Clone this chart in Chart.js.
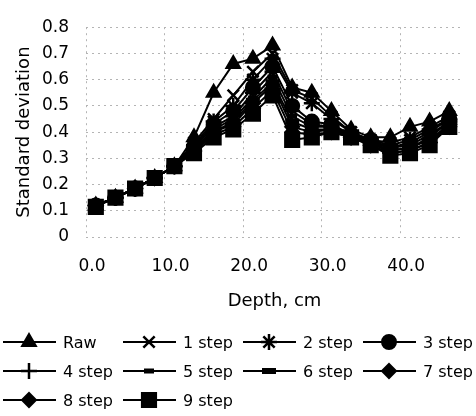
<!DOCTYPE html>
<html>
<head>
<meta charset="utf-8">
<script src="https://cdn.jsdelivr.net/npm/chart.js@4/dist/chart.umd.min.js"></script>
<style>
body { margin: 0; background: #fff; width: 476px; height: 416px; overflow: hidden; position: relative; font-family: "DejaVu Sans", sans-serif; }
#wrap { position: absolute; left: 0; top: 0; width: 476px; height: 318px; }
#legend { position: absolute; left: 0; top: 0; width: 476px; height: 416px; pointer-events: none; }
.item { position: absolute; height: 22px; display: flex; align-items: center; font-size: 16px; color: #000; white-space: nowrap; }
.item canvas { margin-right: 6px; }
</style>
</head>
<body>
<div id="wrap"><canvas id="chart"></canvas></div>
<div id="legend"></div>
<script>
// depth of each layer midpoint, cm
var depths = [1.25, 3.75, 6.25, 8.75, 11.25, 13.75, 16.25, 18.75, 21.25, 23.75, 26.25, 28.75, 31.25, 33.75, 36.25, 38.75, 41.25, 43.75, 46.25];

var raw   = [0.12, 0.15, 0.185, 0.225, 0.27, 0.38, 0.55, 0.66, 0.68, 0.73, 0.57, 0.55, 0.48, 0.41, 0.38, 0.38, 0.42, 0.44, 0.48];
var step1 = [0.12, 0.15, 0.185, 0.225, 0.27, 0.36, 0.45, 0.54, 0.63, 0.70, 0.56, 0.53, 0.46, 0.40, 0.37, 0.36, 0.38, 0.42, 0.46];
var step2 = [0.12, 0.15, 0.185, 0.225, 0.27, 0.35, 0.44, 0.50, 0.60, 0.68, 0.55, 0.51, 0.45, 0.40, 0.37, 0.35, 0.37, 0.41, 0.45];
var step3 = [0.12, 0.15, 0.185, 0.225, 0.27, 0.345, 0.43, 0.48, 0.57, 0.65, 0.50, 0.44, 0.43, 0.39, 0.37, 0.34, 0.36, 0.40, 0.45];
var step4 = [0.12, 0.15, 0.185, 0.225, 0.27, 0.34, 0.42, 0.46, 0.55, 0.63, 0.48, 0.43, 0.42, 0.39, 0.36, 0.34, 0.35, 0.39, 0.44];
var step5 = [0.12, 0.15, 0.185, 0.225, 0.27, 0.335, 0.41, 0.45, 0.53, 0.61, 0.46, 0.42, 0.42, 0.39, 0.36, 0.33, 0.34, 0.38, 0.44];
var step6 = [0.12, 0.15, 0.185, 0.225, 0.27, 0.33, 0.40, 0.44, 0.52, 0.59, 0.44, 0.41, 0.41, 0.39, 0.36, 0.33, 0.34, 0.37, 0.43];
var step7 = [0.12, 0.15, 0.185, 0.225, 0.27, 0.33, 0.40, 0.43, 0.51, 0.58, 0.42, 0.40, 0.41, 0.38, 0.36, 0.32, 0.33, 0.36, 0.43];
var step8 = [0.12, 0.15, 0.185, 0.225, 0.27, 0.325, 0.39, 0.42, 0.49, 0.56, 0.40, 0.39, 0.40, 0.38, 0.35, 0.32, 0.33, 0.36, 0.42];
var step9 = [0.115, 0.15, 0.185, 0.225, 0.27, 0.32, 0.38, 0.41, 0.47, 0.54, 0.37, 0.38, 0.40, 0.38, 0.35, 0.31, 0.32, 0.35, 0.42];

var seriesNames = ['Raw', '1 step', '2 step', '3 step', '4 step', '5 step', '6 step', '7 step', '8 step', '9 step'];
var seriesValues = [raw, step1, step2, step3, step4, step5, step6, step7, step8, step9];

var yTicks = [0, 0.1, 0.2, 0.3, 0.4, 0.5, 0.6, 0.7, 0.8];
var xTicks = [0, 10, 20, 30, 40];

// marker look for each series
var markers = ['triangle', 'crossRot', 'star', 'circle', 'cross', 'line', 'line', 'rectRot', 'rectRot', 'rect'];
var markerSize = [8, 8, 8, 7, 8, 5, 7, 7, 7, 10];
var markerLine = [2, 2.5, 2.5, 2, 2.5, 5, 6, 2, 2, 2];

var datasets = seriesValues.map(function(vals, i){
  return {
    label: seriesNames[i],
    data: vals.map(function(v, j){ return {x: depths[j], y: v}; }),
    borderColor: '#000',
    backgroundColor: '#000',
    borderWidth: 2,
    pointStyle: markers[i],
    pointRadius: markerSize[i],
    pointBorderWidth: markerLine[i],
    pointBorderColor: '#000',
    pointBackgroundColor: '#000',
    tension: 0
  };
});

var gridStyle = {
  color: '#b4b4b4',
  lineWidth: 1,
  drawTicks: false
};

var ctx = document.getElementById('chart').getContext('2d');
var chart = new Chart(ctx, {
  type: 'line',
  data: { datasets: datasets },
  options: {
    responsive: true,
    maintainAspectRatio: false,
    animation: false,
    layout: { padding: { top: 17, right: 6, left: 0, bottom: 0 } },
    plugins: { legend: { display: false }, tooltip: { enabled: false } },
    scales: {
      x: {
        type: 'linear',
        min: 0,
        max: 48,
        border: { display: false, dash: [2, 4] },
        grid: gridStyle,
        afterBuildTicks: function(scale){ scale.ticks = xTicks.map(function(v){ return {value: v}; }); },
        afterFit: function(scale){ scale.height = 81; },
        ticks: {
          color: '#000',
          font: { family: 'DejaVu Sans', size: 17 },
          padding: 19,
          labelOffset: 6,
          maxRotation: 0,
          callback: function(v){ return v.toFixed(1); }
        },
        title: {
          display: true,
          text: 'Depth, cm',
          color: '#000',
          font: { family: 'DejaVu Sans', size: 18 },
          padding: { top: 0, bottom: 6 }
        }
      },
      y: {
        min: 0,
        max: 0.8,
        border: { display: false, dash: [2, 4] },
        grid: gridStyle,
        afterBuildTicks: function(scale){ scale.ticks = yTicks.map(function(v){ return {value: v}; }); },
        afterFit: function(scale){ scale.width = 86; },
        ticks: {
          color: '#000',
          font: { family: 'DejaVu Sans', size: 17 },
          padding: 17,
          callback: function(v){ return v === 0 ? '0' : v.toFixed(1); }
        },
        title: {
          display: true,
          text: 'Standard deviation',
          color: '#000',
          font: { family: 'DejaVu Sans', size: 18 },
          padding: { top: 14, bottom: 4 }
        }
      }
    }
  }
});

// legend below the chart: line sample with marker, then the name
var legendCols = [3, 123, 243, 363];
var legendRows = [342, 371, 400];
var legendBox = document.getElementById('legend');
seriesNames.forEach(function(name, i){
  var item = document.createElement('div');
  item.className = 'item';
  item.style.left = legendCols[i % 4] + 'px';
  item.style.top = (legendRows[Math.floor(i / 4)] - 11) + 'px';
  var c = document.createElement('canvas');
  c.width = 54; c.height = 22;
  var g = c.getContext('2d');
  g.strokeStyle = '#000';
  g.fillStyle = '#000';
  g.lineWidth = 2;
  g.beginPath(); g.moveTo(0, 11); g.lineTo(53, 11); g.stroke();
  g.lineWidth = markerLine[i];
  Chart.helpers.drawPoint(g, { pointStyle: markers[i], radius: markerSize[i], rotation: 0, borderWidth: markerLine[i] }, 26, 11);
  item.appendChild(c);
  var s = document.createElement('span');
  s.textContent = name;
  item.appendChild(s);
  legendBox.appendChild(item);
});
</script>
</body>
</html>
